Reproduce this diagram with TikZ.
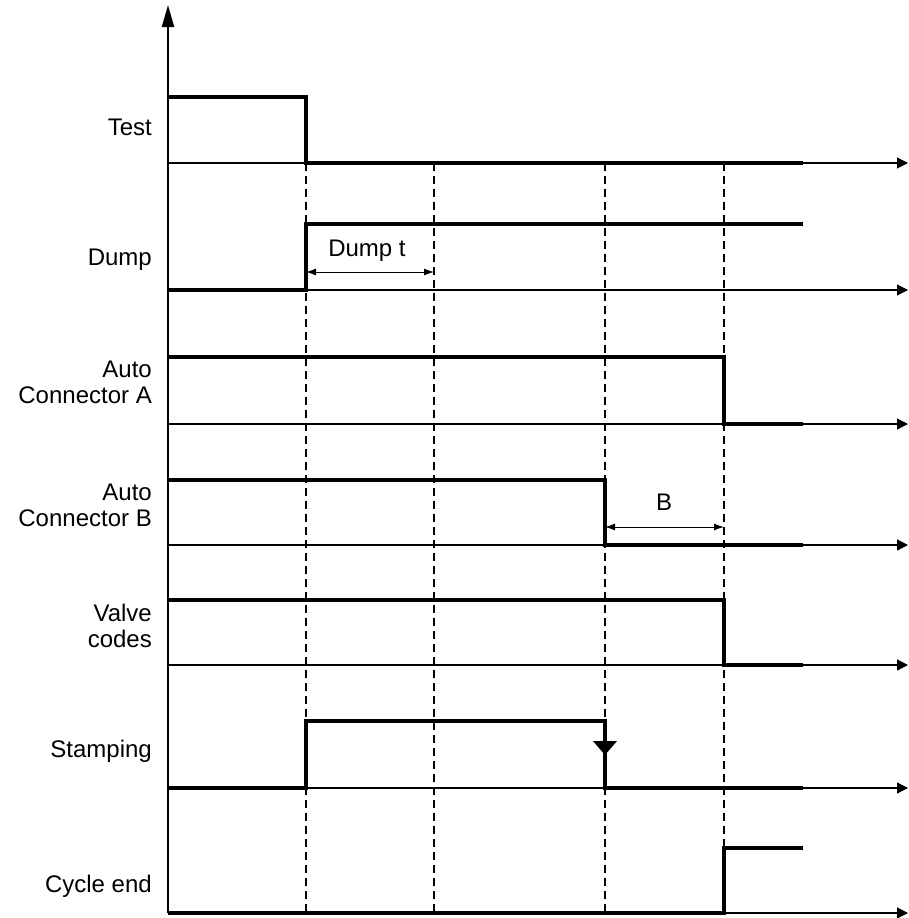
\documentclass[tikz,border=0pt]{standalone}
\usepackage{fontspec}
\setmainfont{Liberation Sans}
\usetikzlibrary{arrows.meta}
\begin{document}
\begin{tikzpicture}[x=1pt,y=-1pt,
  sig/.style={line width=4pt, line join=miter},
  base/.style={line width=1.2pt, -{Triangle[length=11pt,width=11pt]}},
  guide/.style={line width=1.4pt, dash pattern=on 8pt off 5pt},
  dim/.style={line width=1pt, {Latex[length=10pt,width=7pt]}-{Latex[length=10pt,width=7pt]}},
  lbl/.style={anchor=base east, font=\fontsize{24}{26}\selectfont, inner sep=0pt},
  txt/.style={anchor=base, font=\fontsize{24}{26}\selectfont, inner sep=0pt}]
\useasboundingbox (0,0) rectangle (908,918);

% axis coordinates
\coordinate (o) at (168,913);
\coordinate (top) at (168,5);

% baselines
\foreach \y/\n in {163/b1,290/b2,424/b3,545/b4,665/b5,788/b6,913/b7}{
  \coordinate (\n s) at (168,\y);
  \coordinate (\n e) at (908,\y);
  \draw[base] (\n s) -- (\n e);
}

% dashed guides
\foreach \x/\n in {306/g1,434/g2,605/g3,724/g4}{
  \coordinate (\n t) at (\x,163);
  \coordinate (\n b) at (\x,913);
  \draw[guide] (\n t) -- (\n b);
}

% signals
\draw[sig] (168,97) -- (306,97) -- (306,163) -- (803,163);
\draw[sig] (168,290) -- (306,290) -- (306,224) -- (803,224);
\draw[sig] (168,357) -- (724,357) -- (724,424) -- (803,424);
\draw[sig] (168,480) -- (605,480) -- (605,545) -- (803,545);
\draw[sig] (168,600) -- (724,600) -- (724,665) -- (803,665);
\draw[sig] (168,788) -- (306,788) -- (306,721) -- (605,721) -- (605,788) -- (803,788);
\draw[sig] (168,913) -- (724,913) -- (724,848) -- (803,848);

% stamping marker
\fill (593,741) -- (617,741) -- (605,755) -- cycle;

% axis
\draw[line width=2pt, -{Triangle[length=22pt,width=12pt]}] (o) -- (top);

% dimension arrows
\coordinate (d1) at (306,272);
\coordinate (d2) at (434,272);
\draw[dim] (d1) -- (d2);
\node[txt] (dt) at (367,256) {Dump t};
\coordinate (e1) at (605,527);
\coordinate (e2) at (724,527);
\draw[dim] (e1) -- (e2);
\node[txt] (bt) at (664,510) {B};

% labels
\node[lbl] (l1) at (152,135) {Test};
\node[lbl] (l2) at (152,265) {Dump};
\node[lbl] (l3a) at (152,377) {Auto};
\node[lbl] (l3b) at (152,403) {Connector A};
\node[lbl] (l4a) at (152,500) {Auto};
\node[lbl] (l4b) at (152,526) {Connector B};
\node[lbl] (l5a) at (152,621) {Valve};
\node[lbl] (l5b) at (152,647) {codes};
\node[lbl] (l6) at (152,757) {Stamping};
\node[lbl] (l7) at (152,892) {Cycle end};
\end{tikzpicture}
\end{document}
